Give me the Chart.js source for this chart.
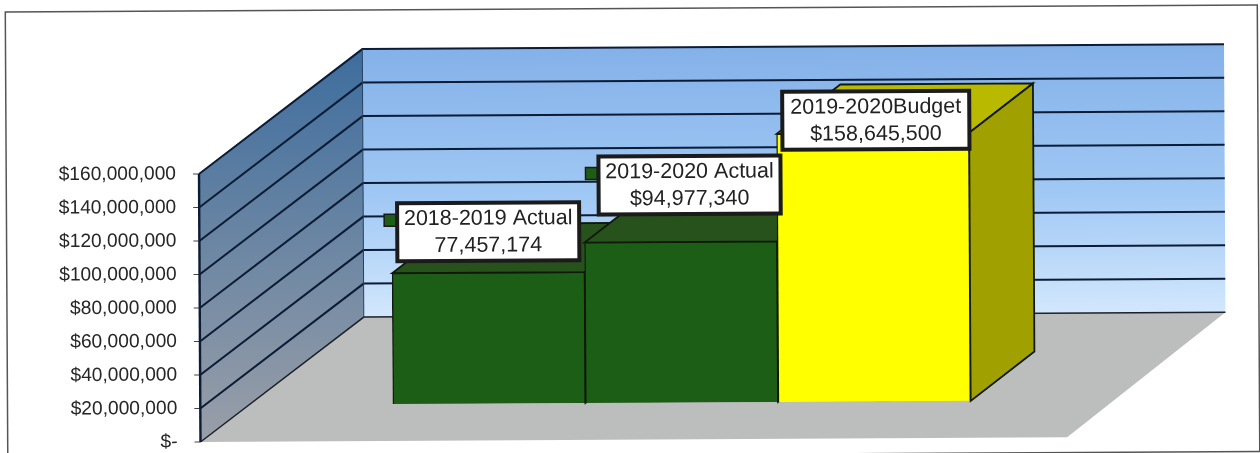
<!DOCTYPE html>
<html lang="en">
<head>
  <meta charset="UTF-8">
  <title>Budget vs Actual</title>
  <style>
    html,body{margin:0;background:#fff}
    canvas{display:block}
  </style>
  <script src="https://cdn.jsdelivr.net/npm/chart.js"></script>
</head>
<body>
  <canvas id="budgetChart" width="1260" height="453"></canvas>
  <script>
    const categories = ['', '2018-2019 Actual', '2019-2020 Actual', '2019-2020Budget', ''];
    const amounts    = [null, 77457174, 94977340, 158645500, null];
    const amountText = ['', '77,457,174', '$94,977,340', '$158,645,500', ''];
    const tickValues = [0, 20000000, 40000000, 60000000, 80000000, 100000000, 120000000, 140000000, 160000000];
    const tickLabels = ['$-', '$20,000,000', '$40,000,000', '$60,000,000', '$80,000,000', '$100,000,000', '$120,000,000', '$140,000,000', '$160,000,000'];

    const frontCols = ['#000', '#1c5e16', '#1c5e16', '#ffff00', '#000'];
    const topCols   = ['#000', '#27521c', '#27521c', '#b9b900', '#000'];
    const sideCols  = ['#000', '#1d4a15', '#1d4a15', '#a0a000', '#000'];

    // box centre relative to top of the bar, the labels were moved by hand in the source
    const boxShift = [null, [0, -41], [9, -57], [3, -13], null];
    const wallDX = 164, wallDY = 124, barDX = 64, barDY = 49;

    function poly(ctx, pts, fill, stroke, lw) {
      ctx.beginPath();
      pts.forEach((p, i) => i ? ctx.lineTo(p[0], p[1]) : ctx.moveTo(p[0], p[1]));
      ctx.closePath();
      if (fill) { ctx.fillStyle = fill; ctx.fill(); }
      if (stroke) { ctx.strokeStyle = stroke; ctx.lineWidth = lw || 1; ctx.stroke(); }
    }

    // the source is a slightly crooked scan
    const tilt = {
      id: 'tilt',
      beforeDraw(chart) {
        const ctx = chart.ctx;
        ctx.save();
        ctx.translate(630, 226);
        ctx.rotate(-0.32 * Math.PI / 180);
        ctx.translate(-630, -226);
      },
      afterDraw(chart) { chart.ctx.restore(); }
    };

    const walls3d = {
      id: 'walls3d',
      beforeDatasetsDraw(chart) {
        const ctx = chart.ctx, y = chart.scales.y, x = chart.scales.x;
        const L = chart.chartArea.left, y0 = y.getPixelForValue(0), yTop = y.getPixelForValue(160000000);
        const frontR = x.getPixelForValue(4), backL = L + wallDX, backR = frontR + 159;
        ctx.save();

        let g = ctx.createLinearGradient(0, yTop - wallDY, 0, y0 - wallDY);
        g.addColorStop(0, '#84b1e9');
        g.addColorStop(0.55, '#a0c8f4');
        g.addColorStop(1, '#d2e7fd');
        poly(ctx, [[backL, yTop - wallDY], [backR, yTop - wallDY], [backR, y0 - wallDY], [backL, y0 - wallDY]], g);

        g = ctx.createLinearGradient(0, yTop - wallDY, 0, y0);
        g.addColorStop(0, '#3d6d9e');
        g.addColorStop(1, '#9a9fa8');
        poly(ctx, [[L, yTop], [backL, yTop - wallDY], [backL, y0 - wallDY], [L, y0]], g);

        poly(ctx, [[L, y0], [backL, y0 - wallDY], [backR, y0 - wallDY], [frontR, y0]], '#bcbebd');

        // gridlines run across both walls, with the small tick in front of the axis
        tickValues.forEach(v => {
          const p = y.getPixelForValue(v);
          ctx.beginPath();
          ctx.moveTo(L, p);
          ctx.lineTo(backL, p - wallDY);
          ctx.lineTo(backR, p - wallDY);
          ctx.strokeStyle = v ? '#0c1c36' : '#1c2028';
          ctx.lineWidth = v ? 2 : 1.5;
          ctx.stroke();
          ctx.beginPath();
          ctx.moveTo(L - 6, p);
          ctx.lineTo(L, p);
          ctx.strokeStyle = '#444';
          ctx.lineWidth = 1;
          ctx.stroke();
        });
        ctx.beginPath();
        ctx.moveTo(L, yTop); ctx.lineTo(L, y0);
        ctx.strokeStyle = '#0c1c36'; ctx.lineWidth = 2.4; ctx.stroke();
        ctx.beginPath();
        ctx.moveTo(backL, yTop - wallDY); ctx.lineTo(backL, y0 - wallDY);
        ctx.strokeStyle = '#26405f'; ctx.lineWidth = 1; ctx.stroke();

        // bar tops and sides, left to right, fronts come after from the library
        chart.getDatasetMeta(0).data.forEach((b, i) => {
          if (amounts[i] === null) return;
          const hw = b.width / 2, l = b.x - hw, r = b.x + hw, t = b.y, bt = b.base;
          poly(ctx, [[l, t], [l + barDX, t - barDY], [r + barDX, t - barDY], [r, t]], topCols[i], '#101a0c', 1.8);
          poly(ctx, [[r, t], [r + barDX, t - barDY], [r + barDX, bt - barDY], [r, bt]], sideCols[i], '#101a0c', 1.8);
        });
        ctx.restore();
      },
      afterDatasetsDraw(chart) {
        const ctx = chart.ctx;
        ctx.save();
        ctx.font = '21.5px "Liberation Sans"';
        ctx.textAlign = 'center';
        ctx.textBaseline = 'middle';
        chart.getDatasetMeta(0).data.forEach((b, i) => {
          if (amounts[i] === null) return;
          const bw = i === 3 ? 187 : 182, bh = 58;
          const cx = b.x + boxShift[i][0], cy = b.y + boxShift[i][1];
          const l = cx - bw / 2, t = cy - bh / 2;
          // legend key sticks out on the left of the box, the yellow one is not visible in the source
          if (i !== 3) {
            ctx.fillStyle = frontCols[i];
            ctx.strokeStyle = '#1a1a1a';
            ctx.lineWidth = 1.5;
            ctx.fillRect(l - 13, cy - 18, 12, 12);
            ctx.strokeRect(l - 13, cy - 18, 12, 12);
          }
          ctx.fillStyle = '#fff';
          ctx.fillRect(l, t, bw, bh);
          ctx.strokeStyle = '#1b1b1b';
          ctx.lineWidth = 4;
          ctx.strokeRect(l, t, bw, bh);
          ctx.fillStyle = '#222';
          ctx.fillText(categories[i], cx, cy - 13);
          ctx.fillText(amountText[i], cx, cy + 14);
        });
        // border of the pasted picture
        ctx.strokeStyle = '#555';
        ctx.lineWidth = 1.5;
        ctx.strokeRect(6.5, 8.5, 1252, 446.5);
        ctx.restore();
      }
    };

    new Chart(document.getElementById('budgetChart'), {
      type: 'bar',
      data: {
        labels: categories,
        datasets: [{
          data: amounts,
          yAxisID: 'yBar',
          backgroundColor: frontCols,
          borderColor: '#101a0c',
          borderWidth: 1.4,
          barPercentage: 1,
          categoryPercentage: 1,
          clip: false
        }]
      },
      options: {
        responsive: false,
        animation: false,
        layout: { padding: { top: 171.6, bottom: 13.4, right: 97.7 } },
        plugins: { legend: { display: false }, tooltip: { enabled: false } },
        scales: {
          x: { display: false },
          y: {
            min: 0,
            max: 160000000,
            afterBuildTicks(s) { s.ticks = tickValues.map(v => ({ value: v })); },
            afterFit(s) { s.width = 199.3; },
            border: { display: false },
            // tickLength only pushes the labels away here, ticks.padding would also grow the layout
            grid: { drawOnChartArea: false, tickLength: 23, tickColor: 'transparent' },
            ticks: {
              padding: 0,
              color: '#262626',
              font: { family: '"Liberation Sans"', size: 19.2 },
              callback: v => tickLabels[tickValues.indexOf(v)]
            }
          },
          // bars stand further forward on the floor, so they use their own offset axis
          yBar: { display: false, min: -21800000, max: 136800000 }
        }
      },
      plugins: [tilt, walls3d]
    });
  </script>
</body>
</html>
